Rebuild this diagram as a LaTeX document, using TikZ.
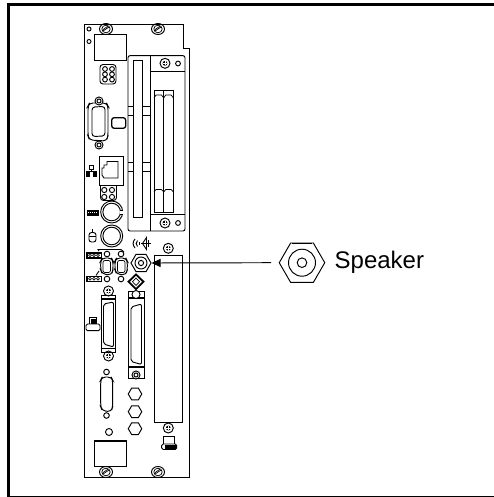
\documentclass[tikz,border=0pt]{standalone}
\usepackage{fontspec}
\setmainfont{Liberation Sans}
\usetikzlibrary{shapes.geometric,arrows.meta}
\tikzset{
  ln/.style={draw=black,line width=0.95pt},
  thin ln/.style={draw=black,line width=0.7pt},
  frameline/.style={draw=black,line width=3pt},
  hexa/.style={regular polygon,regular polygon sides=6,draw=black,line width=0.95pt,inner sep=0pt,fill=white},
}
\newcommand{\slotscrew}[2]{
  \draw[ln] (#1,#2) ellipse (6.5pt and 5.5pt);
  \draw[thin ln] (#1,#2) ellipse (4.2pt and 3.8pt);
  \draw[thin ln] (#1-3,#2+2) -- (#1+3,#2-2);
  \draw[thin ln] (#1-3,#2+0.6) -- (#1+2,#2-2.8);
}
\newcommand{\crossscrew}[2]{
  \draw[ln] (#1,#2) circle (5pt);
  \fill[black] (#1,#2) circle (2.4pt);
  \draw[white,line width=0.5pt] (#1-2.2,#2) -- (#1+2.2,#2) (#1,#2-2.2) -- (#1,#2+2.2);
}
\newcommand{\hole}[3]{\draw[ln] (#1,#2) circle (#3pt);}
\newcommand{\dshell}[4]{
  \draw[ln,rounded corners=3.5pt] (#1,#3+3) -- (#1+1.5,#3) -- (#2-1.5,#3) -- (#2,#3+3) -- (#2,#4-5) -- (#2-1.5,#4) -- (#1+1.5,#4-1) -- (#1,#4-5) -- cycle;
}
\begin{document}
\begin{tikzpicture}[x=1pt,y=-1pt]
\useasboundingbox (0,0) rectangle (494,497);
% outer frame
\draw[frameline] (8.5,497) -- (8.5,4.5) -- (494,4.5);
\draw[draw=black,line width=1.2pt] (8.5,496.2) -- (494,496.2);

% panel outline
\draw[ln] (84,24) -- (183.3,24) -- (183.3,48) -- (189.3,48) -- (189.3,477) -- (84,477) -- cycle;
\slotscrew{106}{29}
\slotscrew{158}{29}
\slotscrew{106}{472}
\slotscrew{158}{472}
\hole{89}{29}{2}
\hole{89}{41.5}{2}

% top block
\draw[ln] (94,34) rectangle (126.7,60.5);
\draw[draw=black,line width=1.5pt] (94,60.5) -- (126.7,60.5);
% grille
\draw[ln,rounded corners=3pt] (100,64.5) rectangle (116,84);
\foreach \yy in {69,74.3,79.6}{\hole{105}{\yy}{2.4}\hole{112}{\yy}{2.4}}

% card cage
\draw[ln,rounded corners=2pt] (128,55.7) -- (185,55.7) -- (185,231) -- (128,231) -- cycle;
\draw[ln] (150.7,55.7) -- (150.7,231);
\draw[ln] (150.7,71.7) -- (185,71.7);
\draw[ln] (150.7,214) -- (185,214);
\crossscrew{165}{63.3}
\hole{178}{63.5}{2.4}
\crossscrew{165}{223}
\hole{178}{223}{2.4}
% left slot
\draw[ln] (133.3,60) rectangle (142,217.3);
\foreach \ya/\yb in {106.7/115,162/171.7}{
  \draw[ln] (128,\ya) -- (133.3,\ya) (128,\yb) -- (133.3,\yb);
  \draw[ln] (142,\ya) -- (150.7,\ya) (142,\yb) -- (150.7,\yb);
}
% right slots
\draw[ln] (154,212.3) -- (154,90) -- (173.7,90) -- (173.7,212.3);
\draw[ln] (154,212.3) -- (173.7,212.3);
\draw[ln] (163.7,90) -- (163.7,212.3);
\foreach \xa in {154,163.7}{
  \draw[thin ln] (\xa,98) -- (\xa+2,95) -- (\xa+7.5,95) -- (\xa+9.7,98);
  \draw[thin ln] (\xa,192) -- (\xa+2,189.5) -- (\xa+7.5,189.5) -- (\xa+9.7,192);
}

% VGA connector
\dshell{88}{108}{103}{141}
\draw[ln,rounded corners=3pt] (92,107) -- (105,106.5) -- (105,136) -- (92,136.5) -- cycle;
\draw[ln,fill=white] (99,101) circle (4pt);
\hole{99}{101}{2}
\draw[ln,fill=white] (99,145) circle (4pt);
\hole{99}{145}{2}
\draw[draw=black,line width=1.3pt,rounded corners=2.5pt] (111.7,117.7) rectangle (125.7,128.3);

% network icon
\draw[ln] (89.5,165) rectangle (93,169);
\draw[ln] (91.2,169) -- (91.2,171.5);
\draw[ln] (86,171.5) -- (96.5,171.5);
\fill[black] (85.5,172) rectangle (90,177);
\fill[black] (92.5,172) rectangle (97,177);

% ethernet
\draw[ln] (99,156.7) rectangle (123.3,185);
\draw[ln] (118,161.5) -- (107,161.5) -- (107,165) -- (104,165) -- (104,168) -- (102,168) -- (102,175) -- (104,178) -- (118,178) -- cycle;
\draw[ln,rounded corners=3pt] (100.5,185) -- (100.5,200.5) -- (116.5,200.5) -- (116.5,185);
\foreach \yy in {190,197}{\hole{104.3}{\yy}{2.6}\hole{112}{\yy}{2.6}}

% keyboard
\fill[black] (86.5,209.5) rectangle (98.5,215.5);
\draw[white,line width=0.6pt,dash pattern=on 1pt off 1pt] (88,212.5) -- (97,212.5);
\draw[ln] (111.7,212) circle (11pt);
\draw[ln] (111.7,212) circle (8.8pt);
\fill[white] (120,210) rectangle (123.5,214);
\draw[thin ln] (120,210) -- (123,210) (120,214) -- (123,214);

% mouse
\draw[ln,rounded corners=2.5pt] (89,232.5) rectangle (96,242);
\draw[thin ln] (89,236) -- (96,236);
\draw[thin ln] (92.5,232.5) -- (92.5,229);
\draw[ln] (111.7,236) circle (11pt);
\draw[ln] (111.7,236) circle (8.8pt);

% jumpers
\foreach \yy in {252,275.5}{
  \fill[black] (86,\yy) rectangle (102,\yy+6.5);
  \fill[white] (87.5,\yy+1.5) rectangle (100.5,\yy+5);
  \foreach \xx in {90,94,98}{\draw[black,line width=0.6pt] (\xx,\yy+3.2) circle (1.4pt);}
}
\draw[ln] (99,251) -- (98,249.5) -- (121,249.5) -- (124,252);
\draw[ln] (96,275.5) -- (99,271);

% serial connectors
\dshell{100.7}{113}{258}{275}
\draw[thin ln,rounded corners=2pt] (103,260.5) rectangle (110.5,272.5);
\dshell{115}{127.3}{258}{275}
\draw[thin ln,rounded corners=2pt] (117.5,260.5) rectangle (125,272.5);
\hole{107}{254}{2.8}
\hole{107}{279}{2.8}
\hole{121}{254}{2.8}
\hole{121}{279}{2.8}

% speaker icon
\draw[ln] (135,239) .. controls (132.5,242) and (132.5,245) .. (135,248);
\draw[ln] (137.5,240.5) .. controls (135.7,242.5) and (135.7,244.5) .. (137.5,246.5);
\draw[thin ln] (139.5,242) .. controls (138.7,243) and (138.7,244) .. (139.5,245);
\draw[ln] (141,243.5) -- (151,243.5);
\draw[ln] (146.5,237.5) -- (142.5,243.5) -- (146.5,249.5) -- cycle;
\draw[ln] (148,240) -- (148,247);

% card (big rectangle)
\draw[ln] (154.3,255) rectangle (182.7,422.3);
\crossscrew{168.3}{248.3}
\crossscrew{168.3}{428}

% speaker jack
\node[hexa,minimum size=20pt] (jack) at (141,263) {};
\draw[ln] (jack.center) circle (6pt);
\draw[ln] (jack.center) circle (2.6pt);

% diamond
\draw[draw=black,line width=1.8pt,fill=white] (136,274.5) -- (143.5,281.7) -- (136,289) -- (128.5,281.7) -- cycle;
\draw[thin ln] (136,278) -- (139.5,281.7) -- (136,285.5) -- (132.5,281.7) -- cycle;

% right long connector
\draw[ln] (128.3,291) rectangle (144.3,378);
\draw[draw=black,line width=1.6pt] (128.3,298) -- (144.3,298) (128.3,367) -- (144.3,367);
\draw[ln,fill=white] (136,294.5) circle (4pt);
\draw[ln,fill=white] (136,375) circle (4pt);
\hole{136}{375}{2}
\draw[ln,rounded corners=2pt] (131,307) -- (141.5,304) -- (141.5,364.5) -- (131,361.5) -- cycle;

% left long connector
\draw[ln] (101.7,295) rectangle (115.7,352);
\draw[draw=black,line width=1.6pt] (101.7,299) -- (115.7,299) (101.7,348.5) -- (115.7,348.5);
\draw[ln,rounded corners=2pt] (103.5,304) -- (113.5,302) -- (113.5,347) -- (103.5,344) -- cycle;
\crossscrew{108.5}{291}
\crossscrew{108.5}{356}

% printer icon
\draw[ln] (89,324) -- (89,317) -- (96.7,317) -- (96.7,324);
\fill[black] (91,318.5) rectangle (96,324);
\draw[ln,rounded corners=1.5pt] (86,324) rectangle (100,330.7);

% lower D connector
\dshell{100.7}{112.7}{377}{411.7}
\hole{106.5}{372}{2.8}
\hole{106.5}{415.5}{2.8}
\hole{109}{432}{3.5}

% hexagonal knock-outs
\node[hexa,minimum size=13.5pt] (ko1) at (135,394) {};
\node[hexa,minimum size=13.5pt] (ko2) at (135,411.7) {};
\node[hexa,minimum size=13.5pt] (ko3) at (135,428.7) {};

% bottom icon
\draw[ln] (163.3,444) -- (163.3,436) -- (174,436) -- (174,444);
\draw[ln,rounded corners=1.5pt] (161.7,444) rectangle (176.7,449.5);
\fill[black] (165,445) rectangle (176,449);

% bottom block
\draw[ln] (94,441) rectangle (126.7,466.7);
\draw[draw=black,line width=1.4pt] (94,441) -- (126.7,441);

% legend symbol and label
\node[hexa,minimum size=45.5pt] (bighex) at (302,262.7) {};
\draw[ln] (bighex.center) circle (13.5pt);
\draw[ln] (bighex.center) circle (4.8pt);
\draw[draw=black,line width=1.4pt] (292,243.6) -- (312,243.6);
\node[anchor=west,inner sep=0pt,font=\fontsize{24}{24}\selectfont] (label) at (334.5,262.5) {Speaker};

% leader arrow
\coordinate (leadstart) at (271,262.7);
\draw[draw=black,line width=0.95pt,-{Triangle[length=9pt,width=8pt]}] (leadstart) -- (jack.east);
\end{tikzpicture}
\end{document}
